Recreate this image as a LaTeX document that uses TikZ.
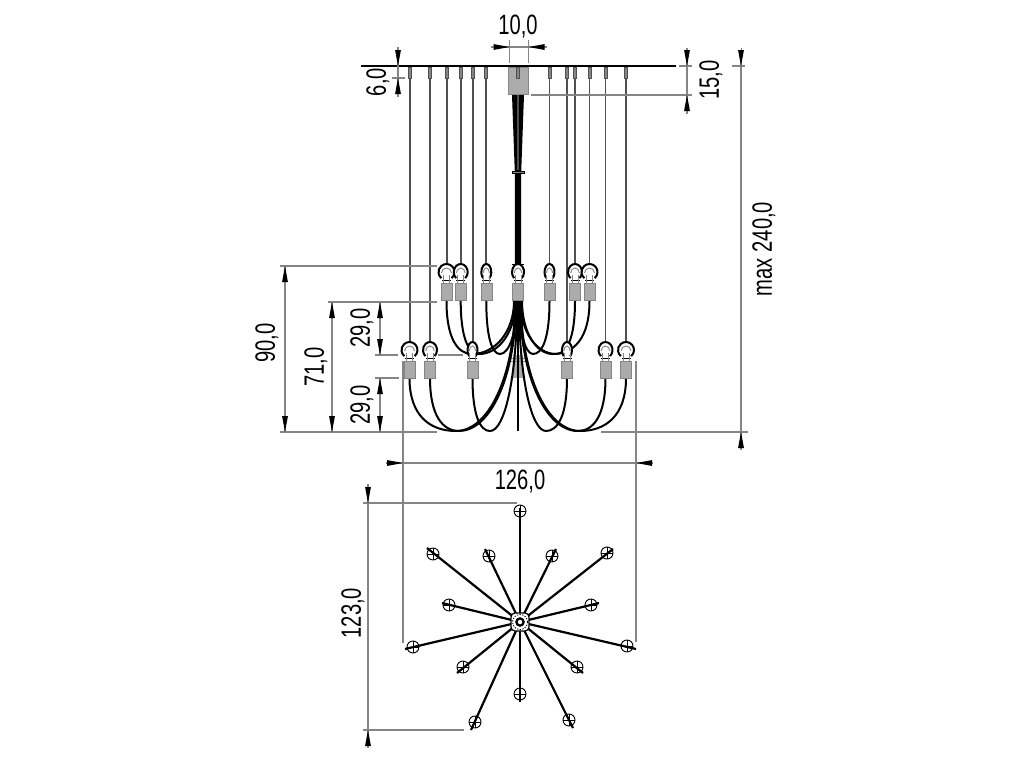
\documentclass[tikz,border=0pt]{standalone}
\usepackage{fontspec}
\setmainfont[FakeStretch=0.72]{Liberation Sans}
\usetikzlibrary{arrows.meta}
\definecolor{dimgrey}{HTML}{858585}
\definecolor{bodygrey}{HTML}{ABABAB}
\definecolor{wiregrey}{HTML}{505050}
\tikzset{
  ext/.style={draw=dimgrey,line width=0.9pt},
  dimarrow/.style={draw=dimgrey,line width=0.7pt,-{Triangle[length=12pt,width=4.4pt,color=black,fill=black,line width=0pt]}},
  wire/.style={draw=wiregrey,line width=0.8pt},
  arm/.style={draw=black,line width=1.5pt},
  lampbody/.style={fill=bodygrey,draw=dimgrey,line width=0.4pt},
  dimtext/.style={font=\fontsize{21}{21}\selectfont,text=black,inner sep=0pt},
  spoke/.style={draw=black,line width=1.65pt},
  peg/.style={fill=dimgrey,draw=wiregrey,line width=0.4pt}
}
\newcommand{\lampat}[3]{% x, body top y, half width of bulb
  \pgfmathsetmacro{\yc}{#2-11}
  \fill[white] (#1,\yc) ellipse ({#3} and 8);
  \draw[black,line width=1.5pt] ({#1+#3*cos(50)},{\yc+8*sin(50)}) arc[start angle=50,end angle=-230,x radius=#3,y radius=8];
  \draw[dimgrey,line width=0.7pt] ({#1-#3*0.62},{\yc+1}) arc[start angle=180,end angle=360,x radius={#3*0.62},y radius=5];
  \draw[black,line width=0.8pt] ({#1-4.5},{#2-2.5}) -- ({#1+4.5},{#2-2.5});
  \draw[dimgrey,line width=0.6pt] ({#1-3},{#2}) -- ({#1-3},{#2-8}) ({#1+3},{#2}) -- ({#1+3},{#2-8});
  \draw[lampbody] ({#1-5.5},#2) rectangle ({#1+5.5},{#2+17.5});
}
\newcommand{\armcurve}[5]{% lamp x, start y, low x, base y, end x
  \draw[arm] (#1,#2) .. controls (#1,{#2+0.72*(#4-#2)}) and ({#1+0.45*(#3-#1)},#4) .. (#3,#4)
     .. controls ({#3+0.55*(#5-#3)},#4) and (#5,{#4-0.42*(#4-301)}) .. (#5,301);
}
\begin{document}
\begin{tikzpicture}[x=0.75pt,y=-0.75pt]
\useasboundingbox (0,0) rectangle (1024,768);
\fill[white] (0,0) rectangle (1024,768);

% ceiling and hanging wires
\foreach \x in {410,430,473,567,605.5,626}{
  \draw[wire] (\x,70) -- (\x,350);
  \draw[peg] ({\x-1.5},67) rectangle ({\x+1.5},78);
}
\foreach \x in {447,461,486,549.5,575,589.5}{
  \draw[wire] (\x,70) -- (\x,272);
  \draw[peg] ({\x-1.5},67) rectangle ({\x+1.5},78);
}
% canopy
\draw[fill=bodygrey,draw=dimgrey,line width=0.4pt] (508.5,67) rectangle (528,94.5);
\draw[peg] (516.5,67) rectangle (519.5,78);
\fill[black] (512,95) -- (524,95) -- (521.2,172) -- (521.2,270) -- (514.8,270) -- (514.8,172) -- cycle;
\fill[wiregrey] (517.4,95) rectangle (518.6,170);
\draw[black,line width=0.7pt,fill=dimgrey] (512,171) rectangle (524,173.5);
\draw[black,line width=0.7pt] (512,264) -- (524,264);
\fill[bodygrey] (513,355) rectangle (523,378);
\draw[dimgrey,line width=0.4pt] (510,358) -- (526,358) (510,361) -- (526,361);
\draw[black,line width=1.5pt] (518,300) -- (518,431);
\draw[line width=1.2pt,draw=black] (361,66) -- (676,66);

% arms, lower ring
\armcurve{409.5}{378}{456}{431}{515}
\armcurve{430}{378}{459}{431}{516}
\armcurve{472.5}{378}{490}{431}{517}
\armcurve{567}{378}{546}{431}{519}
\armcurve{605.5}{378}{578}{431}{520}
\armcurve{626}{378}{580}{431}{521}
% arms, upper ring
\armcurve{446.5}{301}{472}{354}{514}
\armcurve{460.7}{301}{479}{354}{515.5}
\armcurve{486.3}{301}{500}{354}{517}
\armcurve{549.5}{301}{533}{354}{519}
\armcurve{575}{301}{556}{354}{520.5}
\armcurve{589.5}{301}{553}{354}{522}

% lamps
\lampat{446.5}{283}{8}
\lampat{460.7}{283}{7}
\lampat{486.3}{283}{5}
\lampat{518}{283}{6}
\lampat{549.5}{283}{5}
\lampat{575}{283}{7}
\lampat{589.5}{283}{8}
\lampat{409.5}{361}{8}
\lampat{430}{361}{7}
\lampat{472.5}{361}{5}
\lampat{567}{361}{5}
\lampat{605.5}{361}{7}
\lampat{626}{361}{8}

% dimension extension lines
\draw[ext] (509.5,40) -- (509.5,63) (528.5,40) -- (528.5,63);
\draw[ext] (392,78) -- (405,78);
\draw[ext] (679,66) -- (692,66) (531,95) -- (692,95);
\draw[ext] (732,66) -- (745,66);
\draw[ext] (601,432) -- (748,432);
\draw[ext] (741,50) -- (741,450);
\draw[ext] (280,266) -- (437,266) (280,432) -- (437,432);
\draw[ext] (328,302) -- (437,302);
\draw[ext] (375,355) -- (398,355) (438,355) -- (463,355);
\draw[ext] (375,378) -- (399,378);
\draw[ext] (403,361) -- (403,643) (636,361) -- (636,642);
\draw[ext] (386,463) -- (653,463);
\draw[ext] (363,503) -- (517,503) (363,730) -- (464,730);
\draw[ext] (368,484) -- (368,748);
\draw[ext] (285,266) -- (285,432) (332,302) -- (332,432);
\draw[ext] (380,302) -- (380,355) (380,378) -- (380,432);
\draw[ext] (398,47) -- (398,97) (687,48) -- (687,114) (491,47) -- (547,47);

% dimension arrows
\draw[dimarrow] (491,47) -- (509.5,47);
\draw[dimarrow] (547,47) -- (528.5,47);
\draw[dimarrow] (398,47) -- (398,66);
\draw[dimarrow] (398,97) -- (398,78);
\draw[dimarrow] (687,48) -- (687,66);
\draw[dimarrow] (687,114) -- (687,95);
\draw[dimarrow] (741,48) -- (741,66);
\draw[dimarrow] (741,450) -- (741,432);
\draw[dimarrow] (285,284) -- (285,266);
\draw[dimarrow] (285,414) -- (285,432);
\draw[dimarrow] (332,320) -- (332,302);
\draw[dimarrow] (332,414) -- (332,432);
\draw[dimarrow] (380,320) -- (380,302);
\draw[dimarrow] (380,337) -- (380,355);
\draw[dimarrow] (380,396) -- (380,378);
\draw[dimarrow] (380,414) -- (380,432);
\draw[dimarrow] (386,463) -- (403,463);
\draw[dimarrow] (653,463) -- (636,463);
\draw[dimarrow] (368,484) -- (368,503);
\draw[dimarrow] (368,748) -- (368,730);

% dimension texts
\node[dimtext] (t10) at (518,27) {10,0};
\node[dimtext,rotate=90] (t6) at (378,82) {6,0};
\node[dimtext,rotate=90] (t15) at (711,80) {15,0};
\node[dimtext,rotate=90] (tmax) at (764,249) {max 240,0};
\node[dimtext,rotate=90] (t90) at (267,343) {90,0};
\node[dimtext,rotate=90] (t71) at (316,367) {71,0};
\node[dimtext,rotate=90] (t29a) at (362,328) {29,0};
\node[dimtext,rotate=90] (t29b) at (362,405) {29,0};
\node[dimtext] (t126) at (520,482) {126,0};
\node[dimtext,rotate=90] (t123) at (353,613) {123,0};

% plan view
\foreach \cx/\cy/\ex/\ey in {
  520/511/520/508, 433/554/427/548, 489/556/485/549, 552/556/556/549,
  607/553/613/549, 449/605/442/603, 591/605/599/603, 413/647/405/649,
  627/646/636/649, 463/667/457/673, 577/667/583/673, 520/694/520/702,
  475/722/471/730, 569/720/573/728}{
  \draw[spoke] (520,622) -- (\ex,\ey);
  \draw[black,line width=0.7pt] (\cx,\cy) circle (6);
  \draw[black,line width=0.5pt] ({\cx-6},\cy) -- ({\cx+6},\cy) (\cx,{\cy-6}) -- (\cx,{\cy+6});
}
\draw[black,line width=0.9pt,fill=white,rounded corners=3pt] (511,613) rectangle (529,631);
\draw[black,line width=0.6pt,dash pattern=on 1pt off 1pt] (520,622) circle (7.5);
\draw[black,line width=1.7pt,fill=white] (520,622) circle (3.6);
\end{tikzpicture}
\end{document}
